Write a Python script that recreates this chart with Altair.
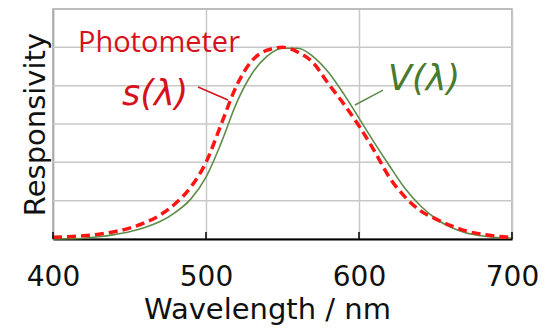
import altair as alt
import pandas as pd

# Wavelength grid (nm)
wavelength = [400, 410, 420, 430, 440, 450, 460, 470, 480, 490,
              500, 510, 520, 530, 540, 550, 560, 570, 580, 590,
              600, 610, 620, 630, 640, 650, 660, 670, 680, 690, 700]
# V(lambda) - green solid curve
v_lambda = [0.0004, 0.0012, 0.004, 0.0116, 0.023, 0.038, 0.06, 0.091, 0.139, 0.208,
            0.323, 0.503, 0.71, 0.862, 0.954, 0.995, 0.995, 0.952, 0.87, 0.757,
            0.631, 0.503, 0.381, 0.265, 0.175, 0.107, 0.061, 0.032, 0.017, 0.0082, 0.0041]
# s(lambda) - photometer, red dashed curve
s_lambda = [0.009, 0.012, 0.017, 0.025, 0.038, 0.057, 0.085, 0.125, 0.185, 0.27,
            0.40, 0.60, 0.80, 0.93, 0.985, 1.0, 0.975, 0.92, 0.81, 0.705,
            0.59, 0.46, 0.32, 0.22, 0.148, 0.105, 0.07, 0.042, 0.025, 0.015, 0.008]

x_ticks = [400, 500, 600, 700]
y_grid = [0.2, 0.4, 0.6, 0.8, 1.0]

# annotations (data coordinates)
ann_text = ["Photometer", "s(λ)", "V(λ)"]
ann_x = [416.3, 445.1, 619.0]
ann_y = [0.975, 0.699, 0.777]
leader_x = [494.8, 597.4]
leader_x2 = [514.4, 615.7]
leader_y = [0.793, 0.699]
leader_y2 = [0.725, 0.777]
leader_name = ["s", "V"]

RED = "#ff1414"
RED_TEXT = "#d7111c"
GREEN = "#5e8c48"
GREEN_TEXT = "#4a7a2c"

df = pd.DataFrame({"wl": wavelength, "V": v_lambda, "s": s_lambda})

xscale = alt.Scale(domain=[400, 700], nice=False, zero=False)
yscale = alt.Scale(domain=[0, 1.2], nice=False)

xaxis = alt.Axis(values=x_ticks, title="Wavelength / nm", ticks=False,
                 labelFont="DejaVu Sans", labelFontSize=28, labelColor="#111",
                 labelPadding=24, labelFlush=False, labelOverlap=False,
                 titleFont="DejaVu Sans", titleFontSize=29, titleFontWeight="normal",
                 titleColor="#111", titleX=214, titleY=79, titleBaseline="alphabetic",
                 domainColor="#000", domainWidth=2,
                 grid=True, gridColor="#c8c8c8", gridWidth=1.5)
yaxis = alt.Axis(title="Responsivity", labels=False, ticks=False, grid=False,
                 titleFont="DejaVu Sans", titleFontSize=29, titleFontWeight="normal",
                 titleColor="#111", titleX=-9, titleBaseline="alphabetic",
                 domainColor="#a8a8a8", domainWidth=1.5)

grid_df = pd.DataFrame({"g": y_grid})
ygrid = alt.Chart(grid_df).mark_rule(color="#c8c8c8", strokeWidth=1.5).encode(
    y=alt.Y("g:Q", scale=yscale, axis=yaxis),
)

base = alt.Chart(df)

green = base.mark_line(color=GREEN, strokeWidth=1.6, interpolate="monotone").encode(
    x=alt.X("wl:Q", scale=xscale, axis=xaxis),
    y=alt.Y("V:Q", scale=yscale, axis=yaxis),
)
red = base.mark_line(color=RED, strokeWidth=3.5, strokeDash=[9, 5],
                     interpolate="monotone").encode(
    x=alt.X("wl:Q", scale=xscale, axis=xaxis),
    y=alt.Y("s:Q", scale=yscale, axis=yaxis),
)

tick_df = pd.DataFrame({"wl": x_ticks})
ticks = alt.Chart(tick_df).mark_rule(color="#000", strokeWidth=1.5).encode(
    x=alt.X("wl:Q", scale=xscale, axis=xaxis),
    y=alt.value(223), y2=alt.value(230),
)

lead_df = pd.DataFrame({"x": leader_x, "x2": leader_x2, "y": leader_y,
                        "y2": leader_y2, "n": leader_name})
leaders = alt.Chart(lead_df).mark_rule(strokeWidth=1.5).encode(
    x=alt.X("x:Q", scale=xscale, axis=xaxis), x2="x2:Q",
    y=alt.Y("y:Q", scale=yscale, axis=yaxis), y2="y2:Q",
    color=alt.Color("n:N", scale=alt.Scale(domain=["s", "V"], range=[RED_TEXT, GREEN]),
                    legend=None),
)

ann_df = pd.DataFrame({"t": ann_text, "x": ann_x, "y": ann_y})
photo = alt.Chart(ann_df.iloc[[0]]).mark_text(
    font="Open Sans", fontSize=29, color=RED_TEXT, align="left", baseline="alphabetic"
).encode(x=alt.X("x:Q", scale=xscale, axis=xaxis),
         y=alt.Y("y:Q", scale=yscale, axis=yaxis), text="t:N")
s_lab = alt.Chart(ann_df.iloc[[1]]).mark_text(
    font="DejaVu Sans", fontSize=35, fontStyle="italic", color=RED_TEXT,
    align="left", baseline="alphabetic"
).encode(x=alt.X("x:Q", scale=xscale, axis=xaxis),
         y=alt.Y("y:Q", scale=yscale, axis=yaxis), text="t:N")
v_lab = alt.Chart(ann_df.iloc[[2]]).mark_text(
    font="DejaVu Sans", fontSize=35, fontStyle="italic", color=GREEN_TEXT,
    align="left", baseline="alphabetic"
).encode(x=alt.X("x:Q", scale=xscale, axis=xaxis),
         y=alt.Y("y:Q", scale=yscale, axis=yaxis), text="t:N")

chart = alt.layer(ygrid, green, red, ticks, leaders, photo, s_lab, v_lab).properties(
    width=459, height=230,
    autosize=alt.AutoSizeParams(type="none"),
    padding={"left": 53, "top": 9, "right": 39, "bottom": 92},
    background="white",
).configure_view(stroke="#a8a8a8", strokeWidth=1.5)

chart.save("out.html", embed_options={"renderer": "svg", "actions": False})
